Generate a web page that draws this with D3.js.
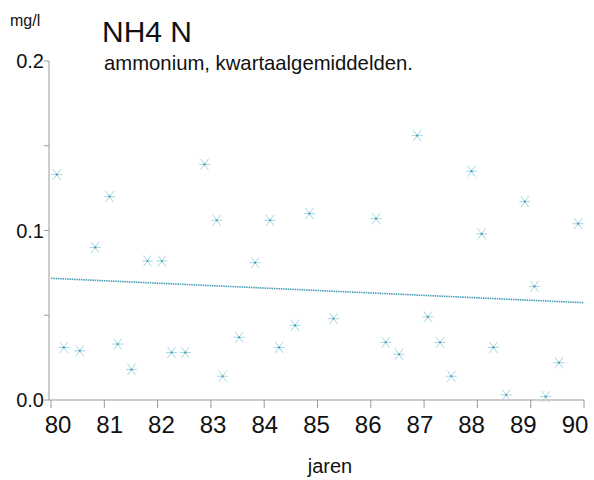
<!DOCTYPE html>
<html>
<head>
<meta charset="utf-8">
<script src="https://cdn.jsdelivr.net/npm/d3@7"></script>
<style>
  body { margin: 0; background: #fff; }
  text { font-family: "Liberation Sans", Arial, sans-serif; fill: #111; }
</style>
</head>
<body>
<div id="chart"></div>
<script>
// quarterly sample times (year, 80 = 1980) and NH4-N values in mg/l
const years = [80.11, 80.24, 80.54, 80.83, 81.10, 81.25, 81.51, 81.81, 82.08, 82.26,
  82.52, 82.88, 83.11, 83.22, 83.53, 83.83, 84.11, 84.28, 84.58, 84.85,
  85.30, 86.10, 86.28, 86.53, 86.87, 87.07, 87.30, 87.51, 87.89, 88.08,
  88.30, 88.54, 88.89, 89.07, 89.28, 89.53, 89.89];
const values = [0.133, 0.031, 0.029, 0.090, 0.120, 0.033, 0.018, 0.082, 0.082, 0.028,
  0.028, 0.139, 0.106, 0.014, 0.037, 0.081, 0.106, 0.031, 0.044, 0.110,
  0.048, 0.107, 0.034, 0.027, 0.156, 0.049, 0.034, 0.014, 0.135, 0.098,
  0.031, 0.003, 0.117, 0.067, 0.002, 0.022, 0.104];
// trend line end points
const trendYears = [80, 90];
const trendValues = [0.0718, 0.0574];
const xTicks = [80, 81, 82, 83, 84, 85, 86, 87, 88, 89, 90];
const yTicks = [0.0, 0.1, 0.2];
const yMinor = [0.05, 0.15];

const W = 594, H = 480;
const x = d3.scaleLinear().domain([80, 90]).range([51, 584]);
const y = d3.scaleLinear().domain([0, 0.2]).range([400, 61]);
// labels in the original sit slightly off their ticks
const xLab = d3.scaleLinear().domain([80, 90]).range([58, 575]);

const svg = d3.select("#chart").append("svg")
    .attr("width", W).attr("height", H);

const axisCol = "#9a9a9a";

// axes
svg.append("line").attr("x1", 49).attr("x2", 49)
    .attr("y1", y(0.2)).attr("y2", y(0))
    .attr("stroke", axisCol).attr("stroke-width", 1);
svg.append("line").attr("x1", 49).attr("x2", x(90))
    .attr("y1", y(0)).attr("y2", y(0))
    .attr("stroke", axisCol).attr("stroke-width", 1);

svg.selectAll(".yt").data(yTicks.concat(yMinor)).enter().append("line")
    .attr("x1", 44).attr("x2", 49)
    .attr("y1", d => y(d)).attr("y2", d => y(d))
    .attr("stroke", axisCol);

svg.selectAll(".yl").data(yTicks).enter().append("text")
    .attr("x", 44).attr("y", d => y(d) + 7)
    .attr("text-anchor", "end")
    .style("font-size", "20px")
    .text(d => d.toFixed(1));

svg.selectAll(".xt").data(xTicks).enter().append("line")
    .attr("x1", d => x(d)).attr("x2", d => x(d))
    .attr("y1", y(0)).attr("y2", y(0) + 8)
    .attr("stroke", axisCol);

svg.selectAll(".xl").data(xTicks).enter().append("text")
    .attr("x", d => xLab(d)).attr("y", 433)
    .attr("text-anchor", "middle")
    .style("font-size", "24px")
    .text(d => d);

// titles
svg.append("text").attr("x", 10).attr("y", 26).style("font-size", "16px").text("mg/l");
svg.append("text").attr("x", 102).attr("y", 42).style("font-size", "30px").text("NH4 N");
svg.append("text").attr("x", 104).attr("y", 70).style("font-size", "20.3px")
    .text("ammonium, kwartaalgemiddelden.");
svg.append("text").attr("x", 330).attr("y", 473).attr("text-anchor", "middle")
    .style("font-size", "20px").text("jaren");

// trend line
svg.append("line")
    .attr("x1", x(trendYears[0])).attr("y1", y(trendValues[0]))
    .attr("x2", x(trendYears[1])).attr("y2", y(trendValues[1]))
    .attr("stroke", "#4b9fb5").attr("stroke-width", 1.6)
    .attr("stroke-dasharray", "1.5 0.8");

// asterisk markers
const pts = years.map((yr, i) => ({ yr: yr, v: values[i] }));
const mk = svg.selectAll(".pt").data(pts).enter().append("g")
    .attr("transform", d => `translate(${x(d.yr)},${y(d.v)})`);
mk.append("path")
    .attr("d", "M-4,-5.5L4,5.5M-4,5.5L4,-5.5M-5.5,0L5.5,0")
    .attr("stroke", "#a6d7e4").attr("stroke-width", 1).attr("fill", "none");
mk.append("circle").attr("r", 1.1).attr("fill", "#4a9ab0");
</script>
</body>
</html>
